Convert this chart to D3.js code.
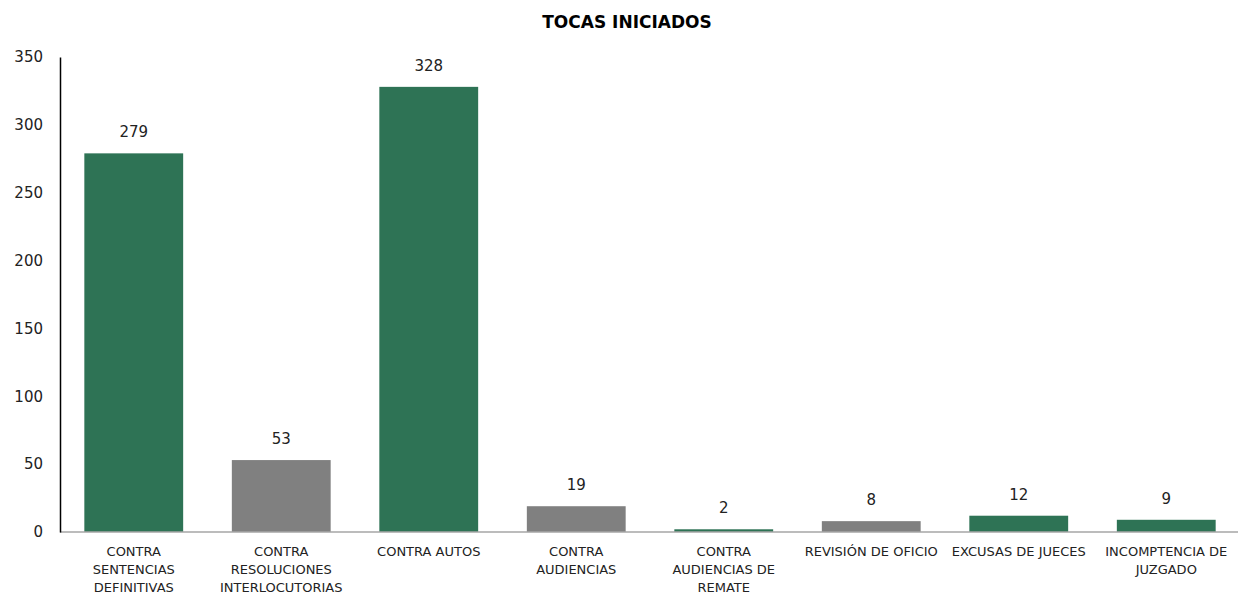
<!DOCTYPE html>
<html>
<head>
<meta charset="utf-8">
<script src="https://cdn.jsdelivr.net/npm/d3@7"></script>
<style>
  body { margin: 0; background: #fff; }
  svg { display: block; }
</style>
</head>
<body>
<svg id="chart" width="1238" height="596"></svg>
<script>
const title = "TOCAS INICIADOS";
const categories = [
  "CONTRA\nSENTENCIAS\nDEFINITIVAS",
  "CONTRA\nRESOLUCIONES\nINTERLOCUTORIAS",
  "CONTRA AUTOS",
  "CONTRA\nAUDIENCIAS",
  "CONTRA\nAUDIENCIAS DE\nREMATE",
  "REVISIÓN DE OFICIO",
  "EXCUSAS DE JUECES",
  "INCOMPTENCIA DE\nJUZGADO"
];
const values = [279, 53, 328, 19, 2, 8, 12, 9];
const barColors = ["#2e7355", "#808080", "#2e7355", "#808080", "#2e7355", "#808080", "#2e7355", "#2e7355"];
const yTicks = [0, 50, 100, 150, 200, 250, 300, 350];

(function () {
const svg = d3.select("#chart");
const font = "DejaVu Sans, sans-serif";
const mLeft = 60, mRight = 1240, mTop = 57, mBottom = 532;

const x = d3.scaleBand().domain(d3.range(categories.length)).range([mLeft, mRight]).paddingInner(0.33).paddingOuter(0.165);
const y = d3.scaleLinear().domain([0, 350]).range([mBottom, mTop]);

svg.append("text").attr("x", 627).attr("y", 28).attr("text-anchor", "middle")
  .attr("font-family", font).attr("font-size", 17).attr("font-weight", "bold").attr("fill", "#000").text(title);

svg.selectAll("rect.bar").data(values).join("rect").attr("class", "bar")
  .attr("x", (d, i) => x(i)).attr("width", x.bandwidth())
  .attr("y", d => y(d)).attr("height", d => y(0) - y(d))
  .attr("fill", (d, i) => barColors[i]);

svg.append("line").attr("x1", mLeft).attr("x2", 1238).attr("y1", y(0)).attr("y2", y(0))
  .attr("stroke", "#a6a6a6").attr("stroke-width", 1.5);

const yAxis = d3.axisLeft(y).tickValues(yTicks).tickSize(0).tickPadding(17);
const ga = svg.append("g").attr("transform", `translate(${mLeft},0)`).call(yAxis);
ga.select(".domain").attr("stroke", "#000").attr("stroke-width", 1.5);
ga.selectAll("text").attr("font-family", font).attr("font-size", 15).attr("fill", "#222");

svg.selectAll("text.val").data(values).join("text").attr("class", "val")
  .attr("x", (d, i) => x(i) + x.bandwidth() / 2).attr("y", d => y(d) - 16)
  .attr("text-anchor", "middle").attr("font-family", font).attr("font-size", 15).attr("fill", "#222")
  .text(d => d);

categories.forEach((c, i) => {
  const t = svg.append("text").attr("text-anchor", "middle")
    .attr("font-family", font).attr("font-size", 13).attr("fill", "#222");
  c.split("\n").forEach((line, j) => {
    t.append("tspan").attr("x", x(i) + x.bandwidth() / 2).attr("y", 556 + j * 18).text(line);
  });
});
})();
</script>
</body>
</html>
